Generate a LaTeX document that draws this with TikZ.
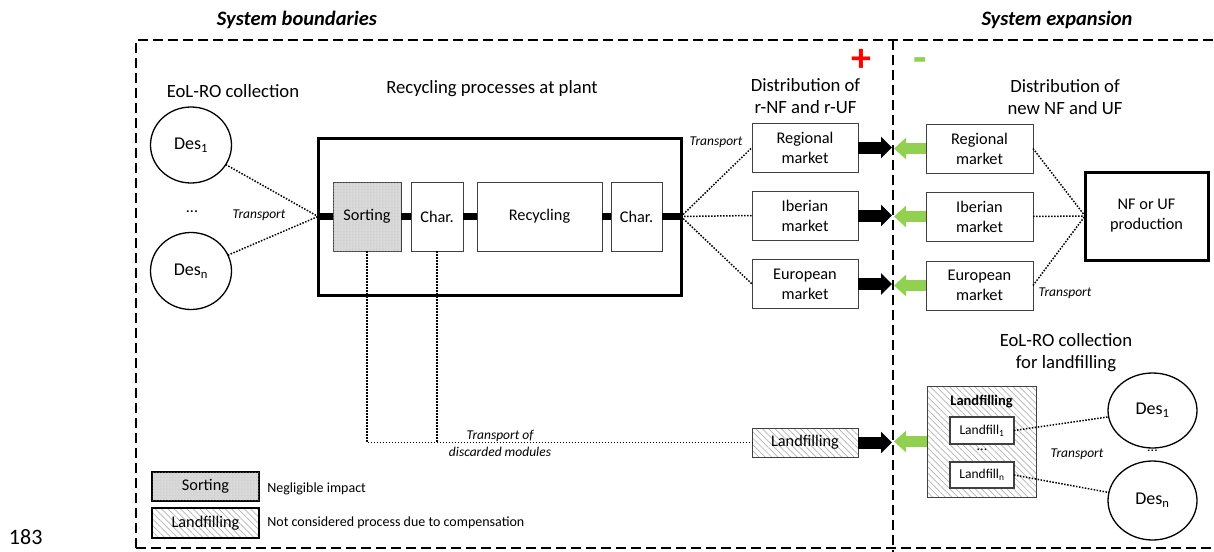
\documentclass[tikz,border=0pt]{standalone}
\usepackage{fontspec}
\setmainfont{Carlito}
\usetikzlibrary{arrows.meta,patterns.meta,shapes.geometric}
\definecolor{lgreen}{HTML}{92D050}
\definecolor{boxline}{HTML}{404040}
\tikzset{
  every node/.style={outer sep=0pt},
  pbox/.style={draw=boxline, line width=1pt, fill=white, align=center, inner sep=0pt, font=\fontsize{16.3}{20}\selectfont},
  bigbox/.style={draw=black, line width=3pt, fill=white, align=center, inner sep=0pt, font=\fontsize{16.3}{20}\selectfont},
  hatchbox/.style={pbox, pattern={Lines[angle=-45,distance=4.5pt,line width=0.7pt]}, pattern color=black!30},
  dotbox/.style={pbox, fill=black!17, postaction={pattern={Dots[distance=3pt,radius=0.5pt]}, pattern color=white}},
  des/.style={ellipse, draw=black, line width=1.3pt, fill=white, inner sep=0pt, font=\fontsize{18}{20}\selectfont},
  head/.style={align=center, font=\fontsize{18.7}{22}\selectfont},
  title/.style={font=\bfseries\itshape\fontsize{20.5}{24}\selectfont},
  trans/.style={align=center, font=\itshape\fontsize{13.5}{17}\selectfont},
  legtext/.style={anchor=west, font=\fontsize{14}{16}\selectfont},
  dotline/.style={line width=1.5pt, dash pattern=on 1.5pt off 1.5pt},
  conn/.style={line width=7pt},
  blackarrow/.style={line width=12pt, -{Triangle[width=21pt,length=11pt]}, black},
  greenarrow/.style={line width=11pt, -{Triangle[width=21pt,length=12pt]}, lgreen},
  boundary/.style={line width=2pt, dash pattern=on 10pt off 5pt},
}
\begin{document}
\begin{tikzpicture}[x=1pt,y=-1pt]
\useasboundingbox (0,0) rectangle (1214,551);
\clip (0,0) rectangle (1214,551);
% boundaries
\draw[boundary] (136,548) -- (136,40) -- (1240,40);
\draw[boundary] (136,548) -- (1240,548);
\coordinate (div) at (893,40);
\coordinate (divb) at (893,560);
\draw[boundary] (div) -- (divb);
% titles
\node[title] (tsb) at (297,20) {System boundaries};
\node[title] (tse) at (1057,20) {System expansion};
\node[text=red, font=\bfseries\fontsize{40}{40}\selectfont] (plus) at (861.5,60) {+};
\node[text=lgreen, font=\bfseries\fontsize{44}{44}\selectfont] (minus) at (920.5,65) {-};
% headers
\node[head] (h1) at (233,91) {EoL-RO collection};
\node[head] (h2) at (492,89) {Recycling processes at plant};
\node[head] (h3) at (805.5,96) {Distribution of\\r-NF and r-UF};
\node[head] (h4) at (1065,97) {Distribution of\\new NF and UF};
\node[head] (h5) at (1066,353) {EoL-RO collection\\for landfilling};
% left circles
\node[des, minimum width=81pt, minimum height=76pt] (d1) at (191,145) {Des\textsubscript{1}};
\node[des, minimum width=81pt, minimum height=77pt] (dn) at (191,271) {Des\textsubscript{n}};
\node[font=\fontsize{16}{18}\selectfont] (ldots) at (192,212) {...};
\node[trans] (tr1) at (259,215) {Transport};
% main plant box
\node[bigbox, minimum width=363pt, minimum height=157pt] (main) at (499.5,216.5) {};
\node[dotbox, minimum width=68pt, minimum height=69pt] (sort) at (367,216.5) {Sorting};
\node[pbox, minimum width=52pt, minimum height=69pt] (ch1) at (437,216.5) {Char.};
\node[pbox, minimum width=125pt, minimum height=69pt] (rec) at (539.5,216.5) {Recycling};
\node[pbox, minimum width=51pt, minimum height=69pt] (ch2) at (636.5,216.5) {Char.};
\draw[conn] (main.west) -- (sort.west);
\draw[conn] (sort.east) -- (ch1.west);
\draw[conn] (ch1.east) -- (rec.west);
\draw[conn] (rec.east) -- (ch2.west);
\draw[conn] (ch2.east) -- (main.east);
\draw[dotline] (d1) -- (main.west);
\draw[dotline] (dn) -- (main.west);
% left markets
\node[pbox, minimum width=106pt, minimum height=49pt] (rl) at (805,147.5) {Regional\\market};
\node[pbox, minimum width=106pt, minimum height=49pt] (il) at (805,215.5) {Iberian\\market};
\node[pbox, minimum width=106pt, minimum height=49pt] (el) at (805,284) {European\\market};
\node[trans] (tr2) at (716,142) {Transport};
\draw[dotline] (main.east) -- (rl.west);
\draw[dotline] (main.east) -- (il.west);
\draw[dotline] (main.east) -- (el.west);
% right markets
\node[pbox, minimum width=107pt, minimum height=49pt] (rr) at (979.5,148.5) {Regional\\market};
\node[pbox, minimum width=107pt, minimum height=49pt] (ir) at (979.5,216.5) {Iberian\\market};
\node[pbox, minimum width=107pt, minimum height=49pt] (er) at (979.5,285.5) {European\\market};
\node[bigbox, minimum width=123pt, minimum height=88pt] (nf) at (1146.5,216) {NF or UF\\production};
\draw[dotline] (rr.east) -- (nf.west);
\draw[dotline] (ir.east) -- (nf.west);
\draw[dotline] (er.east) -- (nf.west);
\node[trans] (tr3) at (1065,293) {Transport};
% arrows
\draw[blackarrow] (rl.east) -- ([xshift=-1pt]rl.east -| div);
\draw[blackarrow] (il.east) -- ([xshift=-1pt]il.east -| div);
\draw[blackarrow] (el.east) -- ([xshift=-1pt]el.east -| div);
\draw[greenarrow] (rr.west) -- ([xshift=1pt]rr.west -| div);
\draw[greenarrow] (ir.west) -- ([xshift=1pt]ir.west -| div);
\draw[greenarrow] (er.west) -- ([xshift=1pt]er.west -| div);
% landfilling
\node[hatchbox, minimum width=106pt, minimum height=29pt] (lfl) at (805,442.5) {Landfilling};
\draw[dotline] (sort.south) |- (lfl.west);
\draw[dotline] (ch1.south) -- (ch1.south |- lfl.west);
\node[trans] (tr4) at (500,443) {Transport of\\discarded modules};
\node[hatchbox, minimum width=109pt, minimum height=111pt] (lfr) at (981.5,441.5) {};
\node[font=\bfseries\fontsize{14.5}{16}\selectfont] (lft) at (981.5,402) {Landfilling};
\node[pbox, line width=1.4pt, minimum width=64pt, minimum height=27pt, font=\fontsize{13.5}{15}\selectfont] (lf1) at (982,430.5) {Landfill\textsubscript{1}};
\node[font=\fontsize{14}{16}\selectfont] (lfdots) at (982,450) {...};
\node[pbox, line width=1.4pt, minimum width=64pt, minimum height=26pt, font=\fontsize{13.5}{15}\selectfont] (lfn) at (982,475) {Landfill\textsubscript{n}};
\draw[blackarrow] (lfl.east) -- ([xshift=-1pt]lfl.east -| div);
\draw[greenarrow] (lfr.west) -- ([xshift=1pt]lfr.west -| div);
\node[des, minimum width=89pt, minimum height=75pt] (rd1) at (1152.5,410.5) {Des\textsubscript{1}};
\node[des, minimum width=89pt, minimum height=79pt] (rdn) at (1152.5,500.5) {Des\textsubscript{n}};
\node[font=\fontsize{14}{16}\selectfont] (rdots) at (1152.5,451) {...};
\draw[dotline] (lf1.east) -- (rd1);
\draw[dotline] (lfn.east) -- (rdn);
\node[trans] (tr5) at (1077,454) {Transport};
% legend
\node[dotbox, draw=black, line width=1.3pt, minimum width=107pt, minimum height=29pt] (lg1) at (205.5,486.5) {Sorting};
\node[hatchbox, draw=black, line width=1.3pt, minimum width=107pt, minimum height=30pt] (lg2) at (205.5,523) {Landfilling};
\node[legtext] (lt1) at (264,489) {Negligible impact};
\node[legtext] (lt2) at (264,523) {Not considered process due to compensation};
% page number
\node[anchor=base west, inner sep=1pt, font=\fontsize{22}{24}\selectfont] (pg) at (8,544) {183};
\end{tikzpicture}
\end{document}
